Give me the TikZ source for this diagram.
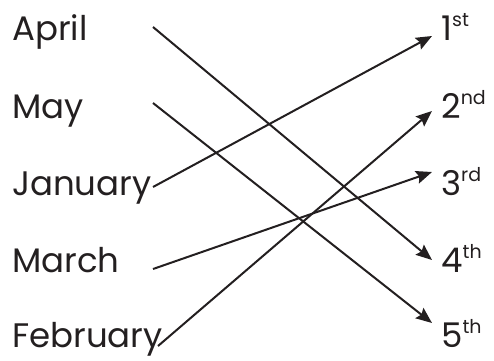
\documentclass[tikz,border=0pt]{standalone}
\usepackage{fontspec}
\setmainfont{Poppins}
\usetikzlibrary{arrows.meta}
\definecolor{ink}{HTML}{231F20}
\tikzset{
  lbl/.style={anchor=base west, inner sep=0pt, text=ink, font=\fontsize{34}{40}\selectfont},
  conn/.style={draw=ink, line width=2pt, -{Stealth[length=16pt,width=13pt,inset=2.5pt]}},
}
\newcommand{\sups}[1]{\raisebox{0.4em}{\fontsize{19}{22}\selectfont #1}}
\begin{document}
\begin{tikzpicture}[x=1pt,y=1pt]
\useasboundingbox (0,0) rectangle (494,360);
\node[lbl] (apr) at (12,320) {April};
\node[lbl] (may) at (12,242) {May};
\node[lbl] (jan) at (12,165) {January};
\node[lbl] (mar) at (12,88) {March};
\node[lbl] (feb) at (12,13) {February};
\node[lbl] (r1) at (441,320) {1\sups{st}};
\node[lbl] (r2) at (441,242) {2\sups{nd}};
\node[lbl] (r3) at (441,165) {3\sups{rd}};
\node[lbl] (r4) at (441,88) {4\sups{th}};
\node[lbl] (r5) at (441,13) {5\sups{th}};
\coordinate (sa) at (153,333);
\coordinate (sm) at (153,257);
\coordinate (sj) at (153,173);
\coordinate (sr) at (153,91);
\coordinate (sf) at (158,14);
\coordinate (t1) at (432,324);
\coordinate (t2) at (432,249);
\coordinate (t3) at (432,188);
\coordinate (t4) at (432,100);
\coordinate (t5) at (432,37);
\draw[conn] (sa) -- (t4);
\draw[conn] (sm) -- (t5);
\draw[conn] (sj) -- (t1);
\draw[conn] (sr) -- (t3);
\draw[conn] (sf) -- (t2);
\end{tikzpicture}
\end{document}
